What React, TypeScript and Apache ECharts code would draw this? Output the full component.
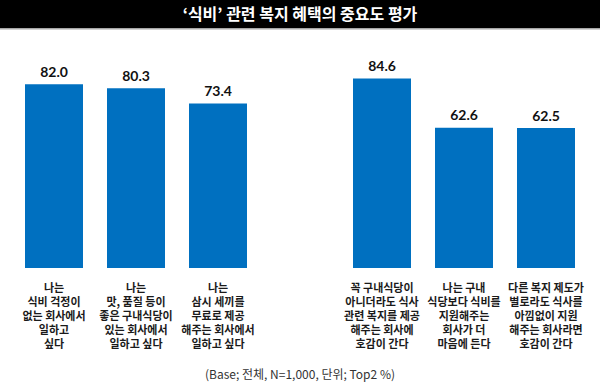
import React, { useEffect, useRef } from "react";
import * as echarts from "echarts";

const titleText = "‘식비’ 관련 복지 혜택의 중요도 평가";
const footnote = "(Base; 전체, N=1,000, 단위; Top2 %)";
const categories = [
  "나는\n식비 걱정이\n없는 회사에서\n일하고\n싶다",
  "나는\n맛, 품질 등이\n좋은 구내식당이\n있는 회사에서\n일하고 싶다",
  "나는\n삼시 세끼를\n무료로 제공\n해주는 회사에서\n일하고 싶다",
  "",
  "꼭 구내식당이\n아니더라도 식사\n관련 복지를 제공\n해주는 회사에\n호감이 간다",
  "나는 구내\n식당보다 식비를\n지원해주는\n회사가 더\n마음에 든다",
  "다른 복지 제도가\n별로라도 식사를\n아낌없이 지원\n해주는 회사라면\n호감이 간다",
];
const values: (number | null)[] = [82.0, 80.3, 73.4, null, 84.6, 62.6, 62.5];

const KR = '"Noto Sans CJK KR", "Noto Sans", sans-serif';

export default function App() {
  const ref = useRef<HTMLDivElement>(null);
  useEffect(() => {
    if (!ref.current) return;
    const chart = echarts.init(ref.current, null, { renderer: "svg" });
    chart.setOption({
      animation: false,
      backgroundColor: "#ffffff",
      graphic: [
        { type: "rect", left: 0, top: 0, shape: { width: 600, height: 28 }, style: { fill: "#000000" }, z: 0 },
        { type: "rect", left: 0, top: 28, shape: { width: 600, height: 1.5 }, style: { fill: "#a6a6a6" }, z: 0 },
        {
          type: "text",
          left: "center",
          top: 5,
          style: { text: titleText, fill: "#ffffff", font: `bold 16px ${KR}` },
          z: 10,
        },
        {
          type: "text",
          left: "center",
          top: 367,
          style: { text: footnote, fill: "#333333", font: `12px ${KR}` },
          z: 10,
        },
      ],
      grid: { left: 13, right: 13, top: 44, bottom: 123, containLabel: false },
      xAxis: {
        type: "category",
        data: categories,
        axisLine: { show: false },
        axisTick: { show: false },
        axisLabel: {
          interval: 0,
          margin: 12,
          color: "#1a1a1a",
          fontSize: 11,
          lineHeight: 14,
          fontWeight: "bold",
          fontFamily: KR,
        },
      },
      yAxis: { type: "value", min: 0, max: 100, show: false, splitLine: { show: false } },
      series: [
        {
          type: "bar",
          data: values,
          barWidth: 58,
          itemStyle: { color: "#0070c0" },
          label: {
            show: true,
            position: "top",
            distance: 6,
            color: "#111111",
            fontSize: 14,
            fontWeight: "bold",
            fontFamily: "Lato, sans-serif",
            formatter: (p: any) => (p.value == null ? "" : Number(p.value).toFixed(1)),
          },
        },
      ],
    });
    return () => chart.dispose();
  }, []);
  return <div ref={ref} style={{ position: "fixed", left: 0, top: 0, width: 600, height: 391 }} />;
}
